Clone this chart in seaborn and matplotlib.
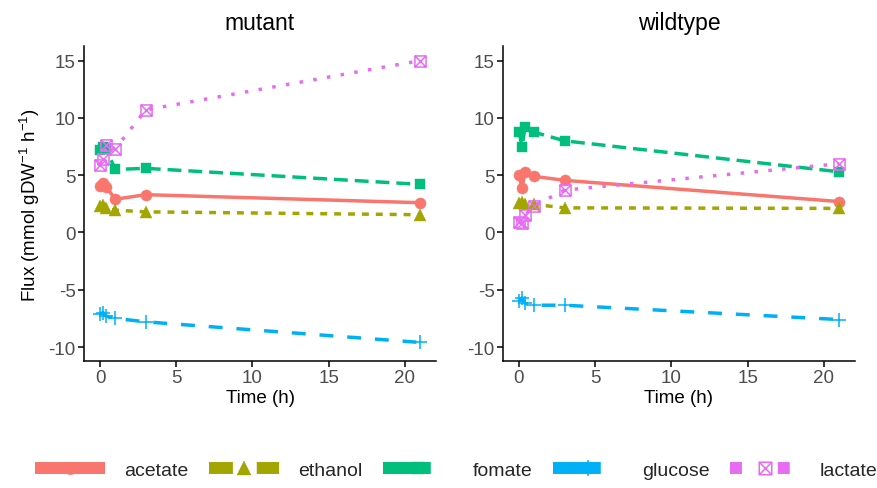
import matplotlib
matplotlib.use("Agg")
import numpy as np
import pandas as pd
import seaborn as sns
import matplotlib.pyplot as plt
from matplotlib.path import Path
from matplotlib.lines import Line2D
from matplotlib.colors import to_hex

# ---------------- data ----------------
times = [0, 0.2, 0.4, 1, 3, 21]
genotypes = ["mutant", "wildtype"]
compounds = ["acetate", "ethanol", "fomate", "glucose", "lactate"]

mutant_acetate = [4.1, 4.3, 4.0, 2.9, 3.3, 2.6]
mutant_ethanol = [2.3, 2.4, 2.1, 1.95, 1.8, 1.55]
mutant_fomate = [7.2, 7.5, 7.3, 5.5, 5.6, 4.2]
mutant_glucose = [-7.1, -7.0, -7.3, -7.5, -7.8, -9.6]
mutant_lactate = [5.9, 6.4, 7.6, 7.3, 10.7, 15.0]

wildtype_acetate = [5.0, 3.9, 5.3, 4.9, 4.55, 2.7]
wildtype_ethanol = [2.6, 2.7, 2.5, 2.45, 2.15, 2.1]
wildtype_fomate = [8.8, 7.5, 9.2, 8.75, 8.0, 5.3]
wildtype_glucose = [-6.0, -5.7, -6.2, -6.35, -6.35, -7.6]
wildtype_lactate = [0.9, 0.8, 1.5, 2.35, 3.7, 6.0]

series = {
    "mutant": [mutant_acetate, mutant_ethanol, mutant_fomate, mutant_glucose, mutant_lactate],
    "wildtype": [wildtype_acetate, wildtype_ethanol, wildtype_fomate, wildtype_glucose, wildtype_lactate],
}
rows = []
for g in genotypes:
    for c, vals in zip(compounds, series[g]):
        for t, v in zip(times, vals):
            rows.append((g, c, t, v))
df = pd.DataFrame(rows, columns=["genotype", "compound", "time", "flux"])

# ---------------- style ----------------
sns.set_theme(style="white")
plt.rcParams["font.family"] = ["Liberation Sans", "DejaVu Sans"]
plt.rcParams["mathtext.fontset"] = "custom"
plt.rcParams["mathtext.rm"] = "Liberation Sans"
plt.rcParams["mathtext.it"] = "Liberation Sans:italic"
plt.rcParams["mathtext.bf"] = "Liberation Sans:bold"
plt.rcParams["axes.unicode_minus"] = False

colors = {"acetate": "#F8766D", "ethanol": "#A3A500", "fomate": "#00BF7D",
          "glucose": "#00B0F6", "lactate": "#E76BF3"}
dashes = {"acetate": "", "ethanol": (2, 2), "fomate": (4, 2),
          "glucose": (4, 4), "lactate": (1, 3)}

boxx = Path([(-1, -1), (1, -1), (1, 1), (-1, 1), (-1, -1),
             (-1, -1), (1, 1), (-1, 1), (1, -1)],
            [Path.MOVETO, Path.LINETO, Path.LINETO, Path.LINETO, Path.CLOSEPOLY,
             Path.MOVETO, Path.LINETO, Path.MOVETO, Path.LINETO])
plus = Path([(-1, 0), (1, 0), (0, -1), (0, 1)],
            [Path.MOVETO, Path.LINETO, Path.MOVETO, Path.LINETO])
markers = {"acetate": "o", "ethanol": "^", "fomate": "s", "glucose": plus, "lactate": boxx}
msizes = {"acetate": 8, "ethanol": 9, "fomate": 7.5, "glucose": 10.5, "lactate": 8}
hollow = {"glucose", "lactate"}

color2comp = {to_hex(v): k for k, v in colors.items()}

W, H = 877, 489
fig = plt.figure(figsize=(W / 100, H / 100), dpi=100)
top, bottom = 47, 362
lefts = [(84, 436), (503, 855)]

axes = []
for (l, r), g in zip(lefts, genotypes):
    ax = fig.add_axes([l / W, 1 - bottom / H, (r - l) / W, (bottom - top) / H])
    sub = df[df["genotype"] == g]
    sns.lineplot(data=sub, x="time", y="flux", hue="compound", style="compound",
                 hue_order=compounds, style_order=compounds, palette=colors,
                 dashes=dashes, markers=markers, errorbar=None, legend=False,
                 lw=2.5, ax=ax)
    for ln in ax.get_lines():
        comp = color2comp.get(to_hex(ln.get_color()))
        if comp is None:
            continue
        col = colors[comp]
        ln.set_markersize(msizes[comp])
        ln.set_markeredgecolor(col)
        if comp in hollow:
            ln.set_markerfacecolor("none")
            ln.set_markeredgewidth(1.1)
        else:
            ln.set_markerfacecolor(col)
            ln.set_markeredgewidth(0.3)
        ln.set_dash_capstyle("butt")
    ax.set_xlim(-1.05, 22.05)
    ax.set_ylim(-11.22, 16.28)
    ax.set_xticks([0, 5, 10, 15, 20])
    ax.set_yticks([-10, -5, 0, 5, 10, 15])
    ax.set_title(g, fontsize=16.5, color="black", pad=12)
    ax.set_xlabel("Time (h)", fontsize=13.5, color="black", labelpad=2)
    ax.set_ylabel("")
    for s in ["top", "right"]:
        ax.spines[s].set_visible(False)
    for s in ["left", "bottom"]:
        ax.spines[s].set_color("black")
        ax.spines[s].set_linewidth(1.1)
    ax.tick_params(axis="both", which="both", direction="out", length=4,
                   width=1.1, color="black", labelsize=13.5, labelcolor="#4D4D4D",
                   bottom=True, left=True, pad=2)
    axes.append(ax)

fig.text(30 / W, 1 - 205 / H, r"Flux (mmol gDW$^{-1}$ h$^{-1}$)", rotation=90,
         ha="center", va="center", fontsize=13.5, color="black")

handles = []
for c in compounds:
    ls = "-" if dashes[c] == "" else (0, dashes[c])
    h = Line2D([], [], color=colors[c], lw=8.6, linestyle=ls, marker=markers[c],
               markersize=msizes[c] + 1, markeredgecolor=colors[c],
               markerfacecolor="none" if c in hollow else colors[c],
               markeredgewidth=1.1 if c in hollow else 0.3,
               solid_capstyle="butt", dash_capstyle="butt")
    handles.append(h)
fig.legend(handles, compounds, loc="center left", bbox_to_anchor=(35 / W, 1 - 471 / H),
           ncol=5, frameon=False, fontsize=14, handlelength=3.6, numpoints=1,
           handletextpad=1.0, columnspacing=1.05, borderpad=0, borderaxespad=0)

fig.savefig("out.png", dpi=100)
